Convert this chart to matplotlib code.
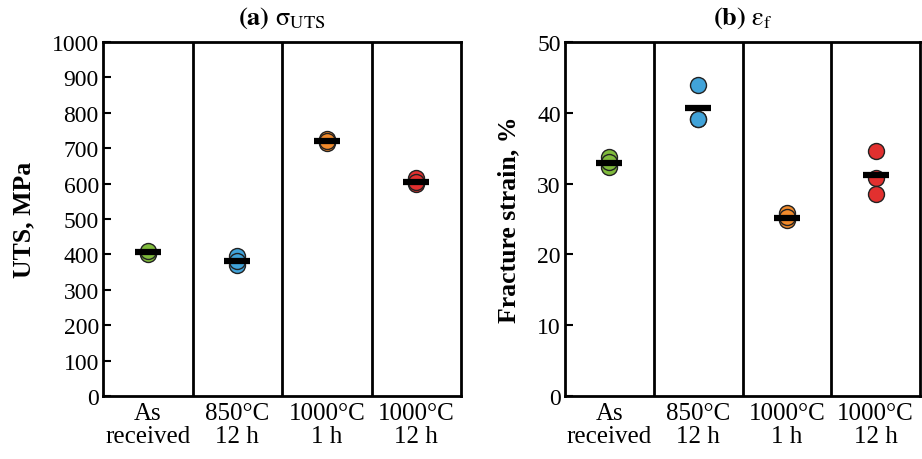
import numpy as np
import matplotlib
matplotlib.use("Agg")
import matplotlib.pyplot as plt

plt.rcParams['font.family'] = ['Liberation Serif', 'DejaVu Serif']
plt.rcParams['mathtext.fontset'] = 'stix'

conditions = ["As\nreceived", "850°C\n12 h", "1000°C\n1 h", "1000°C\n12 h"]
colors = ["#80bb3c", "#41a3d9", "#f08a2c", "#e2302f"]

# UTS, MPa (three specimens per condition)
uts = [[405, 400, 410],
       [395, 370, 380],
       [725, 715, 720],
       [615, 600, 605]]
uts_mean = [407, 382, 720, 605]

# fracture strain, %
strain = [[33.8, 32.4, 33.0],
          [43.9, 39.1, 39.1],
          [25.8, 24.8, 25.3],
          [34.6, 30.8, 28.6]]
strain_mean = [32.9, 40.7, 25.2, 31.2]

fig = plt.figure(figsize=(9.22, 4.6), dpi=100)
ax1 = fig.add_axes([103/922, 1-397/460, 358/922, 354/460])
ax2 = fig.add_axes([565/922, 1-397/460, 355/922, 354/460])

x = np.arange(len(conditions))

def draw(ax, vals, means, ylim, yticks, ylabel, title):
    for i in range(len(conditions)):
        ax.plot([x[i]]*len(vals[i]), vals[i], 'o', ms=11.5, mfc=colors[i],
                mec='#222222', mew=1.0, zorder=3)
        ax.plot(x[i], means[i], '_', ms=19, mew=4.5, color='black', zorder=4)
    for b in x[:-1] + 0.5:
        ax.axvline(b, color='black', lw=2)
    ax.set_xlim(-0.5, len(conditions) - 0.5)
    ax.set_ylim(*ylim)
    ax.set_yticks(yticks)
    ax.set_xticks(x)
    ax.set_xticklabels(conditions, fontsize=18, linespacing=1.1)
    ax.tick_params(axis='x', length=0, pad=4)
    ax.tick_params(axis='y', direction='in', length=6, width=1.5, labelsize=17, pad=3)
    for s in ax.spines.values():
        s.set_linewidth(2)
    ax.set_ylabel(ylabel, fontsize=18.5, fontweight='bold', labelpad=12)
    ax.set_title(title, fontsize=19, pad=13)

draw(ax1, uts, uts_mean, (0, 1000), np.arange(0, 1001, 100), "UTS, MPa",
     r"$\mathbf{(a)}\ \mathrm{\sigma}_{\mathrm{UTS}}$")
draw(ax2, strain, strain_mean, (0, 50), np.arange(0, 51, 10), "Fracture strain, %",
     r"$\mathbf{(b)}\ \mathrm{\varepsilon}_{\mathrm{f}}$")

fig.savefig("out.png", dpi=100)
